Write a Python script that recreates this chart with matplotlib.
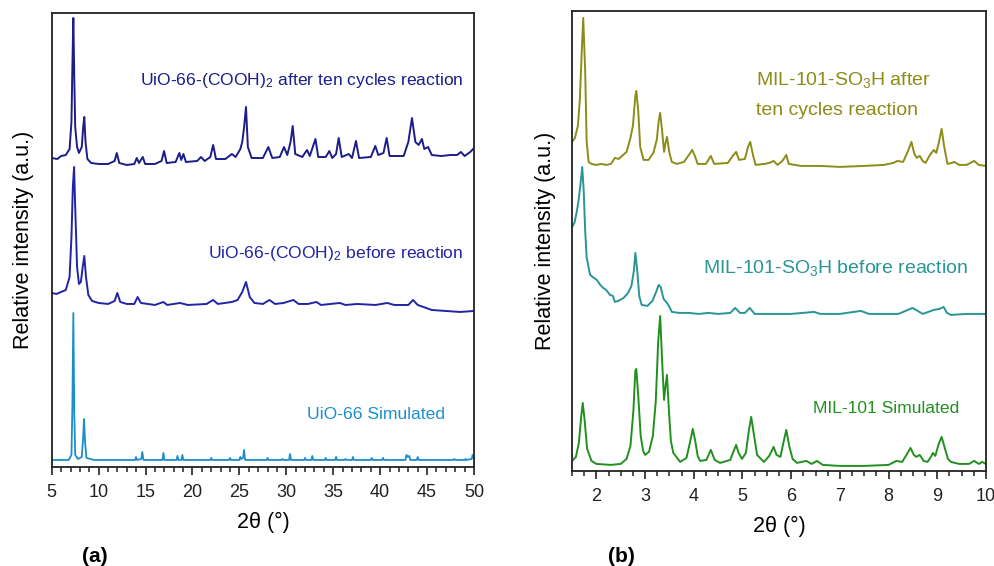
import matplotlib
matplotlib.use("Agg")
from matplotlib import pyplot as plt
from matplotlib.ticker import MultipleLocator

plt.rcParams['font.family'] = ['Liberation Sans', 'DejaVu Sans']
plt.rcParams['mathtext.fontset'] = 'custom'
plt.rcParams['mathtext.rm'] = 'Liberation Sans'
plt.rcParams['mathtext.default'] = 'regular'

# ---------------- (a) UiO-66 (2theta, intensity a.u. with offset) ----------------
uio_after_x = [5.0, 5.6, 6.0, 6.5, 6.9, 7.1, 7.2, 7.3, 7.4, 7.5, 7.7, 7.9, 8.2, 8.35, 8.47, 8.6, 8.8, 9.2,
               10.0, 11.0, 11.7, 11.93, 12.2, 13.0, 13.8, 14.06, 14.3, 14.7, 14.95, 16.0, 16.7, 16.97, 17.25,
               18.2, 18.6, 18.8, 19.03, 19.3, 20.5, 20.9, 21.3, 21.9, 22.2, 22.5, 23.5, 24.2, 24.6, 25.1,
               25.3, 25.5, 25.7, 25.9, 26.3, 27.5, 28.08, 28.5, 29.3, 29.75, 30.1, 30.45, 30.68, 30.95,
               31.7, 32.2, 32.5, 33.1, 33.4, 34.2, 34.58, 34.9, 35.3, 35.58, 35.9, 36.65, 37.0, 37.42,
               37.75, 39.0, 39.48, 39.8, 40.35, 40.69, 41.0, 42.5, 43.0, 43.39, 43.75, 44.1, 44.45, 44.7,
               45.1, 45.5, 46.5, 47.5, 48.2, 48.6, 49.0, 49.6, 50.0]
uio_after_y = [309, 308, 311, 312, 318, 345, 400, 449, 390, 340, 320, 314, 320, 340, 350, 325, 308, 304,
               303, 303, 306, 314, 304, 302, 303, 309, 304, 310, 303, 303, 306, 316, 304,
               305, 314, 307, 313, 305, 306, 310, 306, 310, 322, 308, 308, 313, 310, 318,
               325, 340, 360, 320, 309, 309, 320, 309, 310, 320, 312, 325, 341, 313,
               310, 317, 311, 328, 310, 310, 316, 309, 313, 329, 310, 313, 309, 326,
               309, 310, 321, 312, 314, 329, 311, 311, 325, 349, 325, 322, 328, 318,
               320, 312, 311, 312, 312, 315, 311, 315, 319]

uio_before_x = [5.0, 5.5, 6.0, 6.5, 6.9, 7.1, 7.25, 7.38, 7.5, 7.7, 7.9, 8.1, 8.3, 8.47, 8.65, 8.9, 9.3,
                10.0, 11.0, 11.7, 11.99, 12.3, 13.0, 13.8, 14.15, 14.5, 16.0, 16.9, 17.3, 18.67, 19.5,
                21.5, 22.2, 22.7, 24.2, 24.8, 25.3, 25.7, 26.1, 26.6, 27.5, 28.2, 28.8, 29.7, 30.75,
                31.3, 32.3, 33.2, 33.7, 35.7, 36.3, 37.56, 39.5, 40.76, 41.5, 43.0, 43.5, 44.0, 44.6,
                45.5, 47.0, 48.5, 50.0]
uio_before_y = [174, 173, 175, 177, 190, 230, 280, 300, 260, 200, 183, 185, 200, 211, 190, 172, 166,
                164, 163, 166, 174, 165, 163, 163, 170, 164, 162, 165, 162, 164, 162,
                163, 167, 163, 165, 167, 175, 185, 170, 164, 163, 167, 163, 164, 167,
                163, 163, 165, 162, 164, 162, 163, 162, 164, 162, 162, 167, 162, 160,
                157, 156, 155, 156]

uio_sim_x = [5.0, 6.8, 7.1, 7.2, 7.3, 7.4, 7.5, 7.8, 8.2, 8.35, 8.44, 8.55, 8.7, 9.5,
             13.9, 13.98, 14.1, 14.55, 14.65, 14.78, 16.8, 16.9, 17.0, 18.3, 18.4, 18.5, 18.82, 18.92, 19.02,
             21.9, 22.0, 22.1, 23.9, 24.0, 24.1, 25.0, 25.1, 25.2, 25.4, 25.49, 25.6, 27.9, 28.0, 28.1,
             29.5, 29.6, 29.7, 30.3, 30.39, 30.5, 31.9, 32.0, 32.1, 32.67, 32.77, 32.87, 34.1, 34.2, 34.3,
             35.2, 35.3, 35.4, 36.2, 36.3, 36.4, 37.0, 37.1, 37.2, 39.0, 39.1, 39.2, 40.2, 40.3, 40.4,
             42.7, 42.8, 42.95, 43.1, 43.2, 43.9, 44.0, 44.1, 47.8, 47.9, 48.0, 49.0, 49.1, 49.2,
             49.75, 49.85, 50.0]
uio_sim_y = [7, 7, 12, 60, 154, 55, 12, 8, 10, 30, 48, 25, 9, 7,
             7, 10, 7, 8, 15, 7, 7, 14, 7, 7, 11, 7, 7, 12, 7,
             7, 9, 7, 7, 9, 7, 7, 10, 8, 9, 17, 7, 7, 9, 7,
             7, 8, 7, 7, 13, 7, 7, 9, 7, 7, 11, 7, 7, 9, 7,
             7, 10, 7, 7, 8, 7, 7, 10, 7, 7, 9, 7, 7, 9, 7,
             7, 12, 10, 11, 7, 7, 10, 7, 7, 8, 7, 7, 8, 7,
             8, 12, 8]

# ---------------- (b) MIL-101 ----------------
mil_after_x = [1.5, 1.56, 1.62, 1.66, 1.70, 1.73, 1.77, 1.80, 1.84, 1.9, 2.0, 2.1, 2.2, 2.3, 2.38, 2.46,
               2.55, 2.62, 2.70, 2.75, 2.80, 2.82, 2.86, 2.90, 2.97, 3.07, 3.17, 3.24, 3.28, 3.31, 3.35,
               3.39, 3.42, 3.45, 3.50, 3.55, 3.65, 3.8, 3.9, 3.97, 4.03, 4.08, 4.25, 4.35, 4.42, 4.7,
               4.8, 4.87, 4.93, 5.05, 5.12, 5.16, 5.22, 5.27, 5.45, 5.55, 5.64, 5.72, 5.82, 5.9, 5.95,
               6.2, 6.6, 7.0, 7.5, 7.9, 8.1, 8.18, 8.3, 8.4, 8.47, 8.53, 8.58, 8.64, 8.70, 8.76, 8.85,
               8.93, 8.98, 9.04, 9.09, 9.14, 9.21, 9.3, 9.35, 9.45, 9.6, 9.76, 9.85, 10.0]
mil_after_y = [329, 333, 345, 371, 420, 453, 400, 330, 309, 307, 306, 307, 306, 307, 313, 312,
               316, 319, 333, 345, 375, 380, 360, 324, 311, 311, 318, 331, 350, 358, 340,
               319, 328, 334, 318, 309, 307, 309, 316, 321, 314, 307, 307, 315, 307, 308,
               315, 319, 311, 312, 325, 329, 315, 306, 307, 308, 310, 306, 310, 316, 307,
               305, 305, 304, 305, 306, 308, 310, 309, 320, 329, 317, 313, 315, 310, 308, 316,
               321, 318, 330, 342, 325, 307, 308, 309, 306, 306, 310, 306, 305]

mil_before_x = [1.5, 1.55, 1.6, 1.63, 1.67, 1.71, 1.74, 1.77, 1.80, 1.87, 1.95, 2.01, 2.08, 2.14, 2.2,
                2.28, 2.34, 2.38, 2.45, 2.56, 2.65, 2.72, 2.77, 2.80, 2.84, 2.88, 2.93, 3.05, 3.15, 3.22,
                3.28, 3.32, 3.38, 3.45, 3.5, 3.55, 3.7, 3.9, 4.1, 4.3, 4.5, 4.75, 4.85, 4.95, 5.05,
                5.15, 5.25, 5.6, 6.0, 6.47, 6.6, 7.0, 7.43, 7.6, 8.2, 8.35, 8.49, 8.6, 8.7, 8.93,
                9.05, 9.13, 9.2, 9.28, 9.6, 10.0]
mil_before_y = [244, 248, 260, 269, 285, 304, 280, 240, 214, 196, 193, 191, 186, 183, 181,
                176, 175, 169, 170, 173, 178, 185, 200, 218, 200, 175, 166, 165, 170, 178,
                186, 184, 172, 168, 164, 159, 158, 158, 157, 158, 157, 158, 163, 158, 158,
                163, 157, 157, 157, 159, 157, 157, 160, 157, 157, 160, 163, 160, 157, 161,
                162, 164, 158, 156, 157, 157]

mil_sim_x = [1.5, 1.58, 1.64, 1.69, 1.72, 1.76, 1.81, 1.9, 2.0, 2.3, 2.5, 2.62, 2.70, 2.76, 2.80, 2.82,
             2.86, 2.91, 2.96, 3.0, 3.08, 3.16, 3.22, 3.27, 3.31, 3.35, 3.39, 3.42, 3.45, 3.49, 3.53,
             3.58, 3.72, 3.85, 3.92, 3.98, 4.03, 4.08, 4.13, 4.26, 4.35, 4.43, 4.54, 4.75, 4.82, 4.87,
             4.92, 4.99, 5.07, 5.13, 5.18, 5.23, 5.3, 5.44, 5.55, 5.64, 5.7, 5.78, 5.84, 5.9, 5.96,
             6.03, 6.12, 6.31, 6.42, 6.53, 6.65, 7.0, 7.5, 8.0, 8.16, 8.28, 8.38, 8.45, 8.52, 8.57,
             8.64, 8.72, 8.80, 8.87, 8.91, 8.96, 9.03, 9.09, 9.16, 9.22, 9.28, 9.45, 9.65, 9.76, 9.82,
             9.86, 9.92, 10.0]
mil_sim_y = [10, 14, 28, 55, 68, 50, 22, 10, 7, 6, 7, 12, 25, 60, 100, 102,
             75, 35, 20, 16, 19, 35, 70, 130, 155, 110, 71, 85, 96, 60, 30,
             18, 9, 13, 28, 42, 30, 15, 10, 11, 21, 11, 8, 11, 20, 26,
             18, 12, 18, 40, 54, 38, 16, 9, 15, 24, 16, 14, 28, 41, 25,
             12, 8, 10, 7, 10, 6, 5, 5, 6, 10, 9, 17, 23, 16, 14,
             16, 10, 9, 14, 18, 15, 27, 34, 22, 12, 9, 7, 7, 10, 8,
             7, 9, 7]

c_uio_after = '#1c1c8a'
c_uio_before = '#2323a8'
c_uio_sim = '#1b8fcc'
c_mil_after = '#8c8c18'
c_mil_before = '#2a9595'
c_mil_sim = '#21901f'

fig = plt.figure(figsize=(9.95, 5.66), dpi=100)
axa = fig.add_axes([0.052, 0.175, 0.4244, 0.802])
axb = fig.add_axes([0.5749, 0.168, 0.416, 0.8127])

# painel (a)
axa.plot(uio_after_x, uio_after_y, color=c_uio_after, lw=1.4)
axa.plot(uio_before_x, uio_before_y, color=c_uio_before, lw=1.4)
axa.plot(uio_sim_x, uio_sim_y, color=c_uio_sim, lw=1.3)
axa.set_xlim(5, 50)
axa.set_ylim(0, 454)
axa.xaxis.set_major_locator(MultipleLocator(5))
axa.xaxis.set_minor_locator(MultipleLocator(1))
axa.text(48.9, 387, 'UiO-66-(COOH)$_2$ after ten cycles reaction', color=c_uio_after,
         fontsize=12.6, ha='right', va='center')
axa.text(48.9, 213, 'UiO-66-(COOH)$_2$ before reaction', color=c_uio_before,
         fontsize=12.6, ha='right', va='center')
axa.text(46.9, 52, 'UiO-66 Simulated', color=c_uio_sim, fontsize=12.6, ha='right', va='center')
axa.yaxis.set_label_coords(-0.042, 0.526)

# painel (b)
axb.plot(mil_after_x, mil_after_y, color=c_mil_after, lw=1.4)
axb.plot(mil_before_x, mil_before_y, color=c_mil_before, lw=1.4)
axb.plot(mil_sim_x, mil_sim_y, color=c_mil_sim, lw=1.4)
axb.set_xlim(1.5, 10)
axb.set_ylim(0, 460)
axb.xaxis.set_major_locator(MultipleLocator(1))
axb.xaxis.set_minor_locator(MultipleLocator(0.25))
axb.text(5.27, 391, 'MIL-101-SO$_3$H after', color=c_mil_after, fontsize=14, ha='left', va='center')
axb.text(5.27, 360, 'ten cycles reaction', color=c_mil_after, fontsize=14, ha='left', va='center')
axb.text(4.19, 203, 'MIL-101-SO$_3$H before reaction', color=c_mil_before, fontsize=14,
         ha='left', va='center')
axb.text(6.45, 62, 'MIL-101 Simulated', color=c_mil_sim, fontsize=12.6, ha='left', va='center')
axb.yaxis.set_label_coords(-0.039, 0.5)

for ax in (axa, axb):
    ax.set_yticks([])
    ax.set_xlabel('2θ (°)', fontsize=15.5, labelpad=8)
    ax.set_ylabel('Relative intensity (a.u.)', fontsize=15.5)
    ax.tick_params(axis='x', which='major', direction='out', length=6, width=1.2, labelsize=13,
                   colors='#222222', pad=6)
    ax.tick_params(axis='x', which='minor', direction='out', length=3.5, width=1.1, colors='#222222')
    for s in ax.spines.values():
        s.set_linewidth(1.3)
        s.set_color('#222222')

fig.text(95 / 995, 1 - 556 / 566, '(a)', fontsize=15, fontweight='bold', ha='center', va='center')
fig.text(621 / 995, 1 - 556 / 566, '(b)', fontsize=15, fontweight='bold', ha='center', va='center')

fig.savefig('out.png', dpi=100)
